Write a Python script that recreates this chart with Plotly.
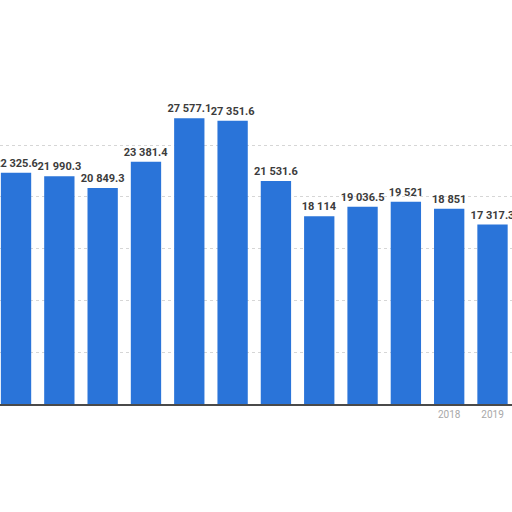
import plotly.graph_objects as go

# Values
years = ["2008", "2009", "2010", "2011", "2012", "2013",
         "2014", "2015", "2016", "2017", "2018", "2019"]
values = [22325.6, 21990.3, 20849.3, 23381.4, 27577.1, 27351.6,
          21531.6, 18114, 19036.5, 19521, 18851, 17317.3]
shown_years = ["2018", "2019"]


def fmt(v):
    s = f"{v:,.1f}".replace(",", " ")
    if s.endswith(".0"):
        s = s[:-2]
    return s


labels = [fmt(v) for v in values]

fig = go.Figure(go.Bar(
    x=years,
    y=values,
    text=labels,
    textposition="outside",
    constraintext="none",
    textfont=dict(family="Roboto", size=11, color="#3c3c3c", weight="bold"),
    marker=dict(color="#2a74d9", line=dict(width=0)),
    cliponaxis=False,
))

fig.update_layout(
    width=512, height=512,
    margin=dict(l=0, r=0, t=0, b=108, autoexpand=False),
    paper_bgcolor="white",
    plot_bgcolor="white",
    bargap=0.3,
    showlegend=False,
    font=dict(family="Roboto"),
)
fig.update_xaxes(
    range=[-0.37, 11.45],
    tickvals=years,
    ticktext=[y if y in shown_years else "" for y in years],
    tickfont=dict(size=10, color="#a8a8a8"),
    showline=True, linecolor="#4a4a4a", linewidth=2,
    ticks="", showgrid=False, automargin=False,
)
fig.update_yaxes(
    range=[0, 39000],
    tickvals=[5000, 10000, 15000, 20000, 25000],
    showticklabels=False,
    showgrid=True, gridcolor="#d6d6d6", griddash="dot", gridwidth=1,
    zeroline=False, automargin=False,
)

# drop the browser's default body margin so the chart fills the window
fig.write_html(
    "out.html",
    config={"displayModeBar": False},
    post_script="document.body.style.margin = '0';",
)
